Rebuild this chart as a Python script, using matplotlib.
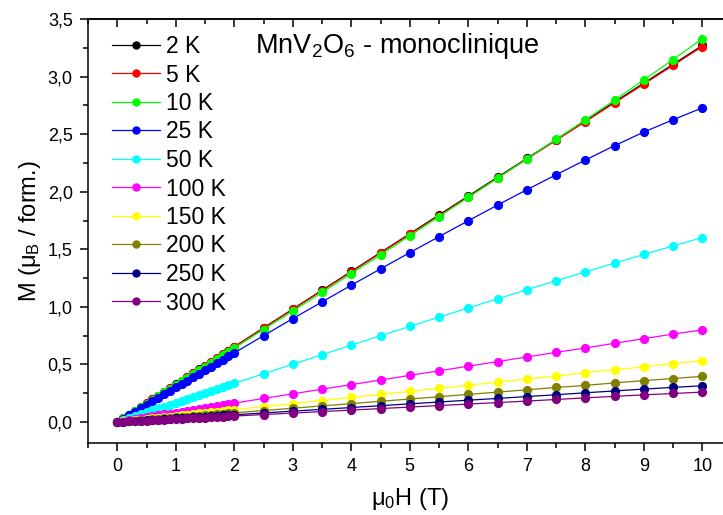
import matplotlib
matplotlib.use("Agg")
import matplotlib.pyplot as plt
from matplotlib.ticker import MultipleLocator, FuncFormatter
from matplotlib.transforms import IdentityTransform

plt.rcParams['font.family'] = ['Liberation Sans', 'DejaVu Sans']
plt.rcParams['mathtext.fontset'] = 'custom'
plt.rcParams['mathtext.rm'] = 'Liberation Sans'
plt.rcParams['mathtext.it'] = 'Liberation Sans:italic'

field = [0.0, 0.1, 0.2, 0.3, 0.4, 0.5, 0.6, 0.7, 0.8, 0.9, 1.0,
         1.1, 1.2, 1.3, 1.4, 1.5, 1.6, 1.7, 1.8, 1.9, 2.0,
         2.5, 3.0, 3.5, 4.0, 4.5, 5.0, 5.5, 6.0, 6.5, 7.0,
         7.5, 8.0, 8.5, 9.0, 9.5, 10.0]

labels = ["2 K", "5 K", "10 K", "25 K", "50 K", "100 K", "150 K", "200 K", "250 K", "300 K"]
colors = ["#000000", "#ff0000", "#00ff00", "#0000ff", "#00ffff",
          "#ff00ff", "#ffff00", "#808000", "#000080", "#800080"]

m_2K = [0, .033, .065, .098, .131, .164, .196, .229, .262, .294, .327,
        .360, .392, .425, .458, .491, .523, .556, .589, .621, .654,
        .818, .981, 1.145, 1.308, 1.472, 1.635, 1.799, 1.962, 2.126, 2.289,
        2.452, 2.616, 2.779, 2.943, 3.106, 3.270]
m_5K = [0, .033, .065, .098, .130, .163, .196, .228, .261, .293, .326,
        .359, .391, .424, .456, .489, .522, .554, .587, .619, .652,
        .815, .978, 1.141, 1.304, 1.467, 1.630, 1.793, 1.956, 2.119, 2.282,
        2.445, 2.608, 2.771, 2.934, 3.097, 3.260]
m_10K = [0, .032, .064, .096, .128, .161, .193, .225, .257, .289, .321,
         .353, .385, .417, .449, .482, .514, .546, .578, .610, .642,
         .803, .964, 1.126, 1.289, 1.452, 1.617, 1.783, 1.950, 2.117, 2.285,
         2.454, 2.623, 2.795, 2.970, 3.148, 3.328]
m_25K = [0, .030, .060, .090, .120, .150, .180, .210, .240, .270, .300,
         .330, .360, .390, .420, .450, .480, .510, .540, .570, .600,
         .750, .898, 1.043, 1.188, 1.330, 1.471, 1.610, 1.748, 1.884, 2.017,
         2.147, 2.275, 2.400, 2.518, 2.625, 2.728]
m_50K = [0, .017, .034, .050, .067, .084, .101, .118, .134, .151, .168,
         .185, .202, .218, .235, .252, .269, .286, .302, .319, .336,
         .419, .502, .585, .667, .749, .830, .911, .991, 1.070, 1.149,
         1.227, 1.304, 1.380, 1.455, 1.529, 1.602]
m_100K = [0, .008, .016, .025, .033, .041, .049, .057, .066, .074, .082,
          .090, .098, .107, .115, .123, .131, .139, .148, .156, .164,
          .205, .245, .285, .325, .365, .405, .445, .485, .525, .565,
          .605, .643, .684, .724, .764, .800]
m_150K = [0, .005, .011, .016, .021, .027, .032, .037, .043, .048, .054,
          .059, .064, .070, .075, .080, .086, .091, .096, .102, .107,
          .134, .160, .187, .214, .240, .267, .293, .320, .346, .373,
          .400, .428, .455, .479, .507, .533]
m_200K = [0, .004, .008, .012, .016, .020, .024, .028, .032, .036, .040,
          .044, .048, .052, .056, .060, .064, .068, .072, .076, .080,
          .100, .120, .140, .160, .180, .200, .220, .240, .260, .280,
          .300, .318, .340, .360, .378, .397]
m_250K = [0, .003, .006, .009, .013, .016, .019, .022, .025, .028, .032,
          .035, .038, .041, .044, .047, .050, .054, .057, .060, .063,
          .079, .095, .110, .126, .142, .158, .174, .190, .205, .221,
          .237, .254, .270, .286, .301, .315]
m_300K = [0, .003, .005, .008, .010, .013, .016, .018, .021, .023, .026,
          .029, .031, .034, .036, .039, .042, .044, .047, .049, .052,
          .065, .078, .091, .104, .117, .130, .143, .156, .169, .182,
          .196, .210, .223, .236, .248, .260]

series = [m_2K, m_5K, m_10K, m_25K, m_50K, m_100K, m_150K, m_200K, m_250K, m_300K]

fig = plt.figure(figsize=(7.23, 5.15), dpi=100)
ax = fig.add_axes([88/723, 72/515, 643.5/723, 424/515])

for lab, col, vals in zip(labels, colors, series):
    ax.plot(field, vals, '-', color=col, lw=0.9, marker='o', ms=5.6,
            mec=col, mfc=col, label=lab)

ax.set_xlim(-0.5, 10.5)
ax.set_ylim(-0.182, 3.5)

ax.xaxis.set_major_locator(MultipleLocator(1))
ax.xaxis.set_minor_locator(MultipleLocator(0.5))
ax.yaxis.set_major_locator(MultipleLocator(0.5))
ax.yaxis.set_minor_locator(MultipleLocator(0.25))
ax.yaxis.set_major_formatter(FuncFormatter(lambda v, p: f"{v:.1f}".replace('.', ',')))
ax.xaxis.set_major_formatter(FuncFormatter(lambda v, p: f"{v:.0f}"))

ax.spines['right'].set_visible(False)
for s in ['left', 'bottom', 'top']:
    ax.spines[s].set_linewidth(1.1)

ax.tick_params(which='major', direction='out', length=6, width=1.1, labelsize=13, pad=5)
ax.tick_params(which='minor', direction='out', length=3.5, width=1.1)

top = ax.secondary_xaxis('top')
top.xaxis.set_major_locator(MultipleLocator(1))
top.xaxis.set_minor_locator(MultipleLocator(0.5))
top.tick_params(which='major', direction='in', length=6, width=1.1, labeltop=False)
top.tick_params(which='minor', direction='in', length=3.5, width=1.1)
top.spines['top'].set_linewidth(1.1)

ax.set_xlabel(r"$\mathregular{\mu_0}$H (T)", fontsize=17, labelpad=8)
ax.set_ylabel(r"M ($\mathregular{\mu_B}$ / form.)", fontsize=17, labelpad=3)

ax.text(255, 515 - 46, r"MnV$\mathregular{_2}$O$\mathregular{_6}$ - monoclinique",
        transform=IdentityTransform(), fontsize=19.5, ha='left', va='center')

leg = ax.legend(loc='upper left', bbox_to_anchor=(112, 515 - 35),
                bbox_transform=IdentityTransform(), frameon=False,
                fontsize=16.5, handlelength=2.1, handletextpad=0.25,
                labelspacing=0.24, markerscale=0.9, borderaxespad=0, borderpad=0)

fig.savefig("out.png", dpi=100)
